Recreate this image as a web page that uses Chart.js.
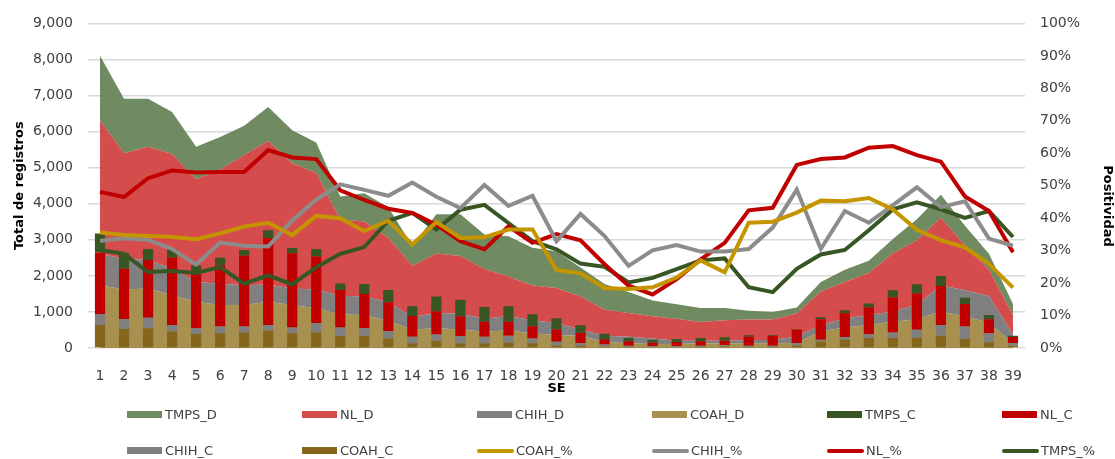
<!DOCTYPE html>
<html>
<head>
<meta charset="utf-8">
<script src="https://cdn.jsdelivr.net/npm/chart.js@4"></script>
<style>
  html, body { margin: 0; padding: 0; background: #fff; }
  #wrap { position: relative; width: 1115px; height: 459px; }
  #legend { position: absolute; left: 0; top: 0; width: 1115px; height: 459px; pointer-events: none; }
  .item { position: absolute; display: flex; align-items: center; font: 13px "DejaVu Sans", sans-serif; color: #404040; white-space: nowrap; }
  .item span.box { display: inline-block; width: 35px; height: 7px; margin-right: 3px; }
  .item span.ln { display: inline-block; width: 37px; height: 4px; border-radius: 2px; margin-right: 2px; }
</style>
</head>
<body>
<div id="wrap">
  <canvas id="chart" width="1115" height="459"></canvas>
  <div id="legend"></div>
</div>
<script>
// semanas epidemiologicas
const weeks = ['1','2','3','4','5','6','7','8','9','10','11','12','13','14','15','16','17','18','19','20',
  '21','22','23','24','25','26','27','28','29','30','31','32','33','34','35','36','37','38','39'];

// areas (registros totales por estado)
const coahD = [1740,1620,1650,1460,1280,1190,1190,1280,1190,1100,930,915,750,510,550,510,450,490,400,370,
  330,175,130,110,110,130,130,130,130,140,460,570,640,730,800,1010,870,700,120];
const chihD = [870,850,790,740,550,590,550,480,460,520,520,515,520,350,420,440,360,400,370,320,
  180,165,180,155,90,70,70,90,90,180,180,250,275,280,400,730,730,740,250];
const nlD = [3700,2930,3140,3180,2850,3160,3610,3980,3470,3230,2110,2080,1790,1420,1650,1600,1380,1090,960,975,
  920,720,660,615,610,520,570,570,570,640,930,1010,1165,1620,1790,1870,1240,730,545];
const tmpsD = [1790,1510,1330,1160,900,910,810,940,920,850,640,780,840,550,1090,1160,960,1120,1050,1015,
  800,715,580,440,400,390,340,240,210,165,260,340,340,390,580,640,550,440,305];

// barras (casos confirmados)
const coahC = [640,530,550,460,385,410,430,475,410,430,330,330,265,130,200,130,130,145,130,60,
  55,37,27,18,18,27,37,27,27,64,183,229,274,274,285,339,247,156,64];
const chihC = [300,275,290,180,165,185,165,165,155,255,235,220,200,180,175,200,180,195,135,115,
  75,63,37,37,37,37,36,37,37,73,46,73,110,156,218,301,348,256,73];
const nlC = [1710,1395,1600,1860,1580,1695,1965,2410,2060,1850,1045,950,805,575,640,550,415,385,340,340,
  290,140,126,90,110,121,127,246,266,368,567,659,741,970,1007,1080,622,384,165];
const tmpsC = [525,435,305,245,160,210,160,215,145,210,180,275,340,270,410,455,410,430,330,310,
  210,155,85,85,85,90,100,45,25,15,54,89,110,200,256,275,174,119,37];

// positividad (%)
const coahPct = [35.6,34.8,34.5,34.2,33.5,35.3,37.4,38.6,34.8,40.7,40.0,36.0,39.2,31.9,38.8,33.9,34.1,36.5,36.5,24.0,
  23.0,18.5,18.2,18.7,21.7,27.0,23.3,38.6,38.9,41.7,45.4,45.2,46.2,42.7,36.4,33.2,31.0,25.9,18.6];
const chihPct = [33.0,33.8,33.3,30.5,25.7,32.5,31.5,31.3,39.3,45.7,50.4,48.7,46.9,51.0,46.6,43.1,50.2,43.8,46.9,32.9,
  41.3,34.5,25.3,30.1,31.7,29.7,29.7,30.5,37.1,48.8,30.5,42.2,38.6,44.0,49.5,43.4,45.2,33.7,31.5];
const nlPct = [48.1,46.5,52.3,54.7,54.1,54.2,54.2,61.0,58.7,58.2,48.6,45.6,42.9,41.6,38.0,32.9,30.4,37.5,32.4,35.1,
  33.2,25.8,19.2,16.5,21.2,27.3,32.4,42.4,43.2,56.4,58.2,58.7,61.7,62.2,59.4,57.4,46.7,42.2,29.5];
const tmpsPct = [30.2,29.0,23.4,23.7,23.1,24.9,19.8,22.4,19.6,24.9,29.0,31.1,39.2,41.6,36.5,42.6,44.1,38.5,32.9,30.4,
  26.0,25.0,20.2,21.6,24.3,27.0,27.6,18.7,17.2,24.4,28.8,30.2,36.3,42.7,44.9,42.7,40.1,42.2,34.2];

const legendOrder = ['TMPS_D','NL_D','CHIH_D','COAH_D','TMPS_C','NL_C',
  'CHIH_C','COAH_C','COAH_%','CHIH_%','NL_%','TMPS_%'];

Chart.defaults.font.family = "'DejaVu Sans', sans-serif";
Chart.defaults.font.size = 14;
Chart.defaults.color = '#404040';

const area = (label, data, color, fill) => ({
  type: 'line', label, data, backgroundColor: color, borderColor: color, borderWidth: 0,
  pointRadius: 0, fill, stack: 'areas', yAxisID: 'y', order: 3, tension: 0
});
const bar = (label, data, color) => ({
  type: 'bar', label, data, backgroundColor: color, borderWidth: 0,
  stack: 'bars', yAxisID: 'y', order: 2, barPercentage: 0.5, categoryPercentage: 0.85
});
const pct = (label, data, color) => ({
  type: 'line', label, data, borderColor: color, backgroundColor: color, borderWidth: 4,
  pointRadius: 0, fill: false, yAxisID: 'y1', order: 1, tension: 0
});

// titulo del eje derecho, un poco por debajo del centro como en el original
const rightTitle = {
  id: 'rightTitle',
  afterDraw(c) {
    const ctx = c.ctx;
    ctx.save();
    ctx.translate(1107, 206);
    ctx.rotate(Math.PI / 2);
    ctx.font = "bold 13px 'DejaVu Sans', sans-serif";
    ctx.fillStyle = '#000';
    ctx.textAlign = 'center';
    ctx.textBaseline = 'middle';
    ctx.fillText('Positividad', 0, 0);
    ctx.restore();
  }
};

const chart = new Chart(document.getElementById('chart'), {
  data: {
    labels: weeks,
    datasets: [
      area('COAH_D', coahD, 'rgba(158,132,61,0.9)', 'origin'),
      area('CHIH_D', chihD, 'rgba(114,114,114,0.9)', '-1'),
      area('NL_D', nlD, 'rgba(208,56,56,0.9)', '-1'),
      area('TMPS_D', tmpsD, 'rgba(97,126,81,0.9)', '-1'),
      bar('COAH_C', coahC, '#85661c'),
      bar('CHIH_C', chihC, '#7f7f7f'),
      bar('NL_C', nlC, '#c00000'),
      bar('TMPS_C', tmpsC, '#375623'),
      pct('COAH_%', coahPct, '#c59500'),
      pct('CHIH_%', chihPct, '#8c8c8c'),
      pct('NL_%', nlPct, '#c00000'),
      pct('TMPS_%', tmpsPct, '#375623')
    ]
  },
  options: {
    responsive: false,
    animation: false,
    layout: { padding: { top: 20, bottom: 61, left: 0, right: 0 } },
    plugins: { legend: { display: false }, tooltip: { enabled: false } },
    scales: {
      x: {
        stacked: true,
        grid: { display: false },
        border: { display: false },
        ticks: { padding: 12, maxRotation: 0, autoSkip: false },
        title: { display: true, text: 'SE', color: '#000', font: { size: 13, weight: 'bold' }, padding: { top: 0, bottom: 2 } },
        afterFit: s => { s.height = 50; }
      },
      y: {
        stacked: true,
        min: 0, max: 9000,
        ticks: { stepSize: 1000, padding: 15, callback: v => v.toLocaleString('en-US') },
        grid: { color: '#d9d9d9', lineWidth: 1.5, drawTicks: false },
        border: { display: false },
        title: { display: true, text: 'Total de registros', color: '#000', font: { size: 13, weight: 'bold' }, padding: { top: 12, bottom: 0 } },
        afterFit: s => { s.width = 88; }
      },
      y1: {
        position: 'right',
        stacked: false,
        min: 0, max: 100,
        ticks: { stepSize: 10, padding: 15, callback: v => v + '%' },
        grid: { display: false, drawTicks: false },
        border: { display: false },
        afterFit: s => { s.width = 90; }
      }
    }
  },
  plugins: [rightTitle]
});

// leyenda en rejilla de 6 columnas
const legendEl = document.getElementById('legend');
const sorted = chart.data.datasets.slice().sort((a, b) => legendOrder.indexOf(a.label) - legendOrder.indexOf(b.label));
sorted.forEach((ds, i) => {
  const col = i % 6, row = Math.floor(i / 6);
  const isLine = ds.yAxisID === 'y1';
  const color = isLine ? ds.borderColor : ds.backgroundColor;
  const div = document.createElement('div');
  div.className = 'item';
  div.style.left = (127 + col * 175) + 'px';
  div.style.top = (407 + row * 36) + 'px';
  div.innerHTML = '<span class="' + (isLine ? 'ln' : 'box') + '" style="background:' + color + '"></span>' + ds.label;
  legendEl.appendChild(div);
});
</script>
</body>
</html>
